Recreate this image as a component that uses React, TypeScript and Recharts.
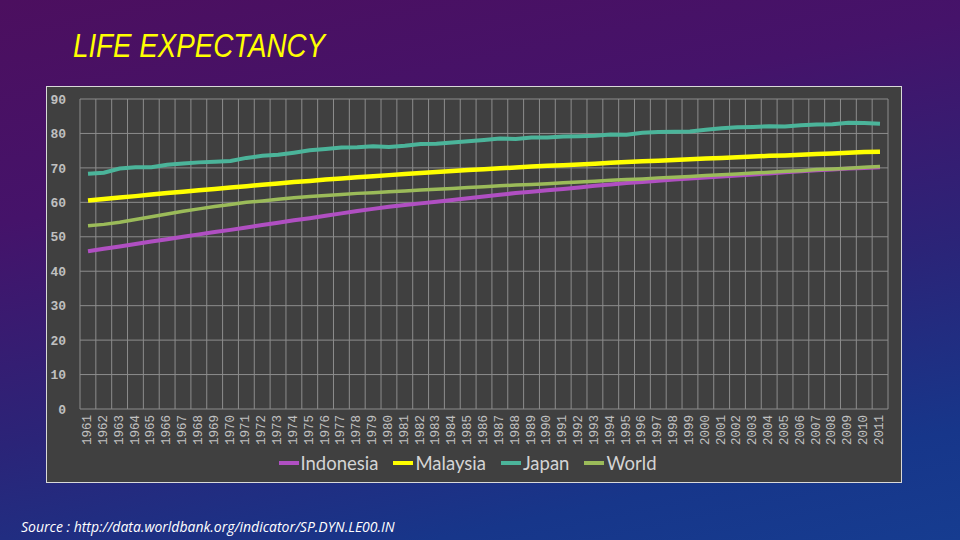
import { LineChart, Line, XAxis, YAxis, CartesianGrid, Legend } from "recharts";

// Life expectancy at birth (years)
const years = [
  "1961", "1962", "1963", "1964", "1965", "1966", "1967", "1968", "1969", "1970",
  "1971", "1972", "1973", "1974", "1975", "1976", "1977", "1978", "1979", "1980",
  "1981", "1982", "1983", "1984", "1985", "1986", "1987", "1988", "1989", "1990",
  "1991", "1992", "1993", "1994", "1995", "1996", "1997", "1998", "1999", "2000",
  "2001", "2002", "2003", "2004", "2005", "2006", "2007", "2008", "2009", "2010",
  "2011",
];

const indonesia = [
  45.8, 46.5, 47.2, 47.9, 48.6, 49.3, 50.0, 50.7, 51.4, 52.0,
  52.7, 53.4, 54.1, 54.8, 55.4, 56.1, 56.8, 57.5, 58.1, 58.7,
  59.2, 59.7, 60.2, 60.7, 61.2, 61.7, 62.2, 62.7, 63.1, 63.5,
  63.9, 64.3, 64.8, 65.2, 65.6, 65.9, 66.3, 66.6, 66.9, 67.2,
  67.5, 67.8, 68.1, 68.4, 68.7, 69.0, 69.3, 69.5, 69.8, 70.0,
  70.2,
];

const malaysia = [
  60.5, 61.0, 61.4, 61.8, 62.3, 62.7, 63.1, 63.5, 63.9, 64.3,
  64.7, 65.1, 65.5, 65.9, 66.2, 66.6, 66.9, 67.3, 67.6, 67.9,
  68.2, 68.5, 68.8, 69.1, 69.4, 69.6, 69.9, 70.1, 70.4, 70.6,
  70.8, 71.0, 71.2, 71.5, 71.7, 71.9, 72.1, 72.3, 72.5, 72.7,
  72.9, 73.1, 73.3, 73.5, 73.6, 73.8, 74.0, 74.2, 74.4, 74.6,
  74.7,
];

const japan = [
  68.3, 68.6, 69.8, 70.2, 70.2, 70.9, 71.3, 71.6, 71.8, 72.0,
  72.9, 73.5, 73.8, 74.4, 75.1, 75.5, 75.9, 76.0, 76.3, 76.1,
  76.4, 76.9, 77.0, 77.4, 77.7, 78.1, 78.5, 78.4, 78.8, 78.8,
  79.1, 79.2, 79.3, 79.7, 79.6, 80.2, 80.4, 80.5, 80.6, 81.1,
  81.5, 81.8, 81.9, 82.1, 82.0, 82.4, 82.6, 82.7, 83.1, 83.0,
  82.8,
];

const world = [
  53.2, 53.6, 54.2, 55.0, 55.8, 56.6, 57.4, 58.1, 58.8, 59.4,
  60.0, 60.4, 60.9, 61.3, 61.7, 62.0, 62.3, 62.6, 62.8, 63.1,
  63.3, 63.6, 63.8, 64.0, 64.3, 64.5, 64.8, 65.0, 65.2, 65.4,
  65.7, 65.9, 66.1, 66.4, 66.6, 66.8, 67.1, 67.3, 67.5, 67.8,
  68.0, 68.2, 68.5, 68.7, 69.0, 69.2, 69.5, 69.7, 69.9, 70.2,
  70.4,
];

const yTicks = [0, 10, 20, 30, 40, 50, 60, 70, 80, 90];

const SERIES = [
  { key: "Indonesia", color: "#b04fc2", width: 4, values: indonesia },
  { key: "Malaysia", color: "#ffff00", width: 4.5, values: malaysia },
  { key: "Japan", color: "#4bb49a", width: 4, values: japan },
  { key: "World", color: "#9bbb59", width: 3.5, values: world },
];

const data = years.map((year, i) => {
  const row: Record<string, string | number> = { year };
  SERIES.forEach((s) => {
    row[s.key] = s.values[i];
  });
  return row;
});

const GRID = "#8c8c8c";
const LABEL = "#c0c0c0";

const XTick = (props: any) => {
  const { x, y, payload } = props;
  return (
    <text
      x={x}
      y={y}
      transform={`rotate(-90, ${x}, ${y})`}
      textAnchor="end"
      dominantBaseline="central"
      fill={LABEL}
      fontSize={12.5}
      fontFamily="'Liberation Mono', 'DejaVu Sans Mono', monospace"
    >
      {payload.value}
    </text>
  );
};

// keep the slide's series order (Recharts sorts the payload by name)
const renderLegend = () => (
  <div
    style={{
      display: "flex",
      justifyContent: "center",
      alignItems: "center",
      height: 22,
      gap: 15,
    }}
  >
    {SERIES.map((s) => (
      <div key={s.key} style={{ display: "flex", alignItems: "center" }}>
        <span
          style={{
            display: "inline-block",
            width: 20,
            height: 4,
            backgroundColor: s.color,
            marginRight: 2,
          }}
        />
        <span
          style={{
            fontSize: 18.5,
            color: "#d4d4d4",
            fontFamily: "Lato, 'Open Sans', sans-serif",
          }}
        >
          {s.key}
        </span>
      </div>
    ))}
  </div>
);

export default function App() {
  return (
    <div
      style={{
        position: "fixed",
        left: 0,
        top: 0,
        width: 960,
        height: 540,
        overflow: "hidden",
        background:
          "linear-gradient(168deg, #4c0f5f 0%, #45136a 30%, #2b2478 60%, #17368a 85%, #163c90 100%)",
        fontFamily: "Lato, sans-serif",
      }}
    >
      <div
        style={{
          position: "absolute",
          left: 73,
          top: 29,
          fontSize: 33,
          fontStyle: "italic",
          color: "#ffff00",
          fontFamily: "'Liberation Sans', sans-serif",
          lineHeight: 1,
          whiteSpace: "nowrap",
          transform: "scaleX(0.84)",
          transformOrigin: "left top",
        }}
      >
        LIFE EXPECTANCY
      </div>

      <div
        style={{
          position: "absolute",
          left: 46,
          top: 86,
          width: 854,
          height: 395,
          backgroundColor: "#404040",
          border: "1px solid #d9d9d9",
        }}
      >
        <LineChart
          width={854}
          height={395}
          data={data}
          margin={{ top: 12, right: 13, left: 0, bottom: 8 }}
        >
          <CartesianGrid
            stroke={GRID}
            strokeWidth={1}
            verticalCoordinatesGenerator={({ offset }: any) =>
              Array.from(
                { length: years.length + 1 },
                (_, i) => offset.left + (i * offset.width) / years.length
              )
            }
          />
          <XAxis
            dataKey="year"
            interval={0}
            axisLine={false}
            tickLine={false}
            tickSize={6}
            tickMargin={0}
            padding={{ left: 8, right: 8 }}
            height={43}
            tick={<XTick />}
          />
          <YAxis
            domain={[0, 90]}
            ticks={yTicks}
            axisLine={false}
            tickLine={false}
            tickMargin={8}
            width={33}
            tick={{
              fill: LABEL,
              fontSize: 13,
              fontWeight: 700,
              fontFamily: "'Liberation Mono', 'DejaVu Sans Mono', monospace",
            }}
          />
          <Legend verticalAlign="bottom" height={22} content={renderLegend} />
          {SERIES.map((s) => (
            <Line
              key={s.key}
              type="linear"
              dataKey={s.key}
              stroke={s.color}
              strokeWidth={s.width}
              dot={false}
              isAnimationActive={false}
            />
          ))}
        </LineChart>
      </div>

      <div
        style={{
          position: "absolute",
          left: 21,
          top: 517,
          fontSize: 14,
          fontStyle: "italic",
          color: "#ffffff",
          fontFamily: "'Open Sans', sans-serif",
          whiteSpace: "nowrap",
        }}
      >
        Source : http://data.worldbank.org/indicator/SP.DYN.LE00.IN
      </div>
    </div>
  );
}
